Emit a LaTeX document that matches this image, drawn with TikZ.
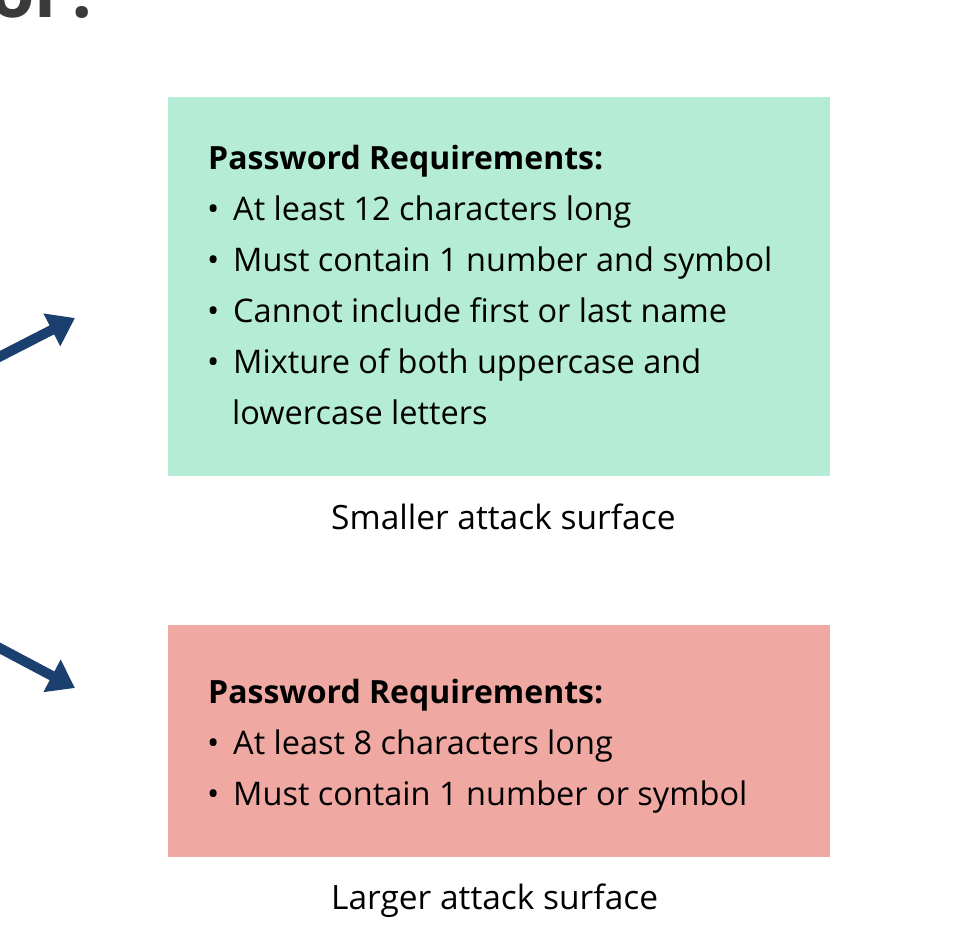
\documentclass[tikz,border=0pt]{standalone}
\usepackage{fontspec}
\setmainfont{Open Sans}
\usetikzlibrary{arrows.meta}
\definecolor{boxgreen}{HTML}{B4ECD6}
\definecolor{boxred}{HTML}{EFA8A2}
\definecolor{arrowblue}{HTML}{1B3F6E}
\definecolor{titlegrey}{HTML}{3A3A3A}
\begin{document}
\begin{tikzpicture}[x=1pt,y=-1pt,
  txt/.style={anchor=base west, inner sep=0pt, font=\fontsize{32.5}{38}\selectfont},
  bold/.style={txt, font=\fontsize{32}{38}\selectfont\bfseries},
  captxt/.style={txt, font=\fontsize{33.5}{40}\selectfont},
  panel/.style={anchor=north west, inner sep=0pt, minimum width=662pt},
  bigarrow/.style={draw=arrowblue, line width=10pt, -{Triangle[length=26pt,width=35pt]}}]
\useasboundingbox (0,0) rectangle (974,940);
\clip (0,0) rectangle (974,940);
% cropped title
\node[anchor=base west, inner sep=0pt, text=titlegrey, font=\fontsize{72}{72}\selectfont\bfseries] (title) at (-10,17) {or?};
% panels
\node[panel, fill=boxgreen, minimum height=379pt] (green) at (168,97) {};
\node[panel, fill=boxred, minimum height=232pt] (red) at (168,625) {};
% arrows
\coordinate (a1s) at (-40,377);
\coordinate (a2s) at (-40,627);
\draw[bigarrow] (a1s) -- (75,318) coordinate (a1e);
\draw[bigarrow] (a2s) -- (75,688) coordinate (a2e);
% green text
\node[bold] (g0) at (208,169) {Password Requirements:};
\node[txt] (g1b) at (207,220) {•};
\node[txt] (g1) at (233,220) {At least 12 characters long};
\node[txt] (g2b) at (207,271) {•};
\node[txt] (g2) at (233,271) {Must contain 1 number and symbol};
\node[txt] (g3b) at (207,322) {•};
\node[txt] (g3) at (233,322) {Cannot include first or last name};
\node[txt] (g4b) at (207,373) {•};
\node[txt] (g4) at (233,373) {Mixture of both uppercase and};
\node[txt] (g5) at (232,424) {lowercase letters};
\node[captxt] (cap1) at (331,529) {Smaller attack surface};
% red text
\node[bold] (r0) at (208,703) {Password Requirements:};
\node[txt] (r1b) at (207,754) {•};
\node[txt] (r1) at (233,754) {At least 8 characters long};
\node[txt] (r2b) at (207,805) {•};
\node[txt] (r2) at (233,805) {Must contain 1 number or symbol};
\node[captxt] (cap2) at (331,909) {Larger attack surface};
\end{tikzpicture}
\end{document}
